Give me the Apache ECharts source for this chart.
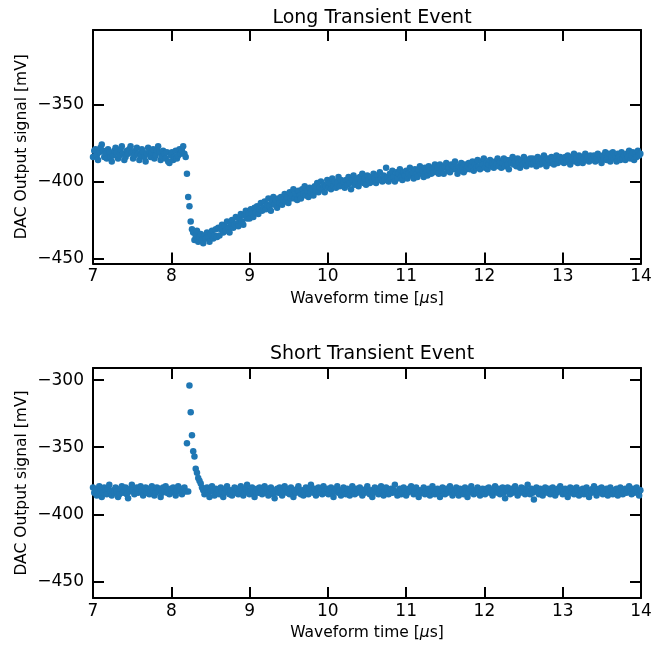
<!DOCTYPE html>
<html>
<head>
<meta charset="utf-8">
<title>Transient Events</title>
<script src="https://cdn.jsdelivr.net/npm/echarts@6/dist/echarts.min.js"></script>
<style>
  html, body { margin: 0; padding: 0; background: #fff; }
  #chart { width: 667px; height: 645px; }
</style>
</head>
<body>
<div id="chart"></div>
<script>
// Waveform samples: DAC output in mV, one sample every 16 ns starting at 7 µs.
const sampleStartUs = 7.0;
const samplePeriodUs = 0.016;

const longEventMv = [
  -384,-380,-379,-383,-386,-381,-378,-376,-380,-384,-382,-385,-379,-381,-384,-387,-383,-380,-378,-381,
  -385,-383,-379,-377,-382,-386,-384,-380,-382,-379,-377,-381,-385,-383,-380,-378,-382,-386,-383,-379,
  -381,-384,-387,-382,-378,-380,-384,-381,-379,-385,-383,-380,-377,-381,-386,-384,-380,-382,-385,-381,
  -387,-388,-383,-381,-386,-384,-380,-385,-383,-379,-382,-380,-377,
  -382,-384,-395,-410,-416,-426,-431,
  -433,-438,-435,-432,-439,-436,-434,-438,-440,-435,-437,-433,-436,-439,-434,-432,-437,-435,-431,-436,
  -430,-435,-431,-428,-433,-429,-432,-426,-430,-433,-427,-425,-430,-428,-423,-427,-429,-424,-421,-426,-428,-422,-419,-424,-421,
  -424,-418,-421,-423,-417,-420,-416,-421,-418,-414,-419,-417,-413,-418,-415,-411,-416,-419,-413,-410,-415,-412,-417,-411,-414,
  -410,-415,-412,-408,-413,-410,-414,-407,-411,-409,-405,-411,-408,-412,-406,-409,-411,-405,-408,-403,-409,-406,-410,-404,-407,
  -405,-409,-403,-406,-401,-407,-404,-400,-405,-402,-407,-403,-399,-404,-401,-405,-398,-403,-400,-404,-401,-397,-403,-399,-402,
  -400,-404,-399,-402,-397,-401,-405,-399,-396,-402,-400,-398,-403,-397,-400,-395,-401,-398,-402,-396,-399,-401,-397,-400,-395,
  -398,-401,-396,-399,-394,-398,-400,-396,-399,-391,-397,-400,-395,-398,-393,-397,-400,-394,-398,-395,-392,-397,-399,-394,-396,
  -393,-398,-395,-391,-396,-394,-398,-392,-395,-397,-392,-390,-395,-393,-397,-391,-394,-396,-390,-393,-395,-391,-394,-389,-393,
  -391,-395,-389,-393,-391,-395,-390,-388,-393,-391,-394,-389,-392,-390,-387,-392,-395,-390,-393,-388,-391,-394,-389,-392,-390,
  -388,-392,-390,-387,-393,-389,-391,-386,-390,-392,-387,-389,-385,-391,-388,-392,-389,-386,-390,-388,-391,-387,-389,-385,-390,
  -387,-391,-388,-385,-390,-386,-389,-392,-386,-388,-384,-389,-387,-390,-385,-388,-391,-386,-389,-384,-387,-390,-386,-388,-385,
  -389,-385,-388,-386,-390,-384,-387,-389,-385,-388,-383,-387,-390,-385,-386,-388,-384,-387,-389,-385,-383,-388,-386,-384,-387,
  -385,-388,-384,-387,-383,-386,-389,-384,-386,-382,-387,-385,-388,-383,-386,-384,-388,-385,-382,-386,-384,-387,-383,-386,-385,
  -383,-387,-385,-382,-386,-384,-388,-383,-385,-381,-386,-384,-382,-387,-384,-381,-385,-383,-387,-382,-384,-386,-381,-385,-383,
  -386,-382,-384,-380,-385,-383,-381,-386,-382,-384,-380,-383,-382
];

const shortEventMv = [
  -380,-384,-382,-386,-381,-379,-383,-387,-384,-380,-382,-385,-381,-378,-383,-386,-382,-384,-380,-383,
  -387,-385,-381,-379,-384,-382,-380,-385,-388,-383,-381,-378,-382,-385,-383,-380,-384,-381,-379,-383,
  -386,-382,-380,-384,-381,-385,-383,-379,-382,-386,-384,-380,-383,-381,-387,-384,-380,-382,-379,-384,
  -382,-385,-381,-383,-380,-384,-386,-382,-379,-383,-381,-385,-382,-380,-383,
  -347,-383,-304,-324,-341,-353,-357,-366,-369,-373,-375,-377,-380,
  -382,-385,-383,-380,-384,-387,-382,-379,-383,-386,-381,-384,-382,-385,-380,-383,-387,-384,-381,-379,-383,-385,-382,-386,-383,
  -380,-384,-381,-385,-383,-379,-382,-386,-384,-381,-378,-383,-385,-382,-380,-384,-387,-383,-381,-384,-380,-382,-385,-383,-379,
  -384,-381,-386,-383,-380,-382,-385,-388,-383,-381,-384,-380,-382,-386,-383,-379,-381,-384,-382,-385,-380,-383,-387,-382,-384,
  -381,-379,-383,-385,-382,-386,-384,-380,-382,-385,-381,-378,-383,-384,-381,-386,-383,-380,-384,-382,-385,-379,-382,-384,-381,
  -385,-382,-380,-384,-387,-383,-381,-379,-384,-382,-386,-383,-380,-382,-385,-381,-384,-386,-382,-379,-383,-385,-381,-384,-382,
  -380,-383,-386,-382,-384,-381,-379,-383,-385,-382,-387,-384,-380,-383,-381,-385,-382,-379,-384,-386,-383,-380,-382,-385,-383,
  -381,-384,-382,-378,-383,-386,-384,-381,-385,-383,-380,-382,-386,-384,-381,-383,-379,-382,-385,-383,-380,-384,-387,-382,-384,
  -383,-380,-385,-382,-384,-381,-386,-383,-379,-382,-385,-383,-381,-384,-387,-382,-380,-383,-385,-381,-384,-382,-379,-383,-386,
  -382,-384,-380,-383,-386,-381,-384,-382,-385,-380,-383,-387,-384,-381,-379,-383,-385,-382,-384,-380,-382,-386,-383,-381,-384,
  -385,-381,-383,-380,-384,-382,-386,-383,-379,-382,-384,-381,-385,-383,-380,-384,-388,-382,-380,-383,-385,-381,-384,-382,-379,
  -383,-386,-382,-384,-380,-383,-381,-385,-382,-378,-383,-385,-381,-384,-389,-383,-380,-382,-385,-381,-384,-386,-382,-380,-383,
  -384,-381,-385,-383,-380,-382,-386,-384,-381,-383,-379,-382,-385,-383,-381,-384,-387,-382,-380,-384,-381,-385,-383,-380,-382,
  -386,-382,-384,-381,-385,-383,-380,-383,-387,-382,-384,-381,-379,-383,-386,-384,-381,-383,-380,-385,-382,-384,-381,-386,-383,
  -380,-383,-385,-382,-384,-381,-386,-383,-380,-382,-385,-383,-381,-384,-382,-379,-383,-385,-381,-384,-382,-380,-384,-386,-382
];

const panelTitles = ['Long Transient Event', 'Short Transient Event'];
const xTicks = [7, 8, 9, 10, 11, 12, 13, 14];
const longYTicks = [-450, -400, -350];
const shortYTicks = [-450, -400, -350, -300];
const longYRange = [-453.2, -301.6];
const shortYRange = [-462.3, -291];

function toPoints(values) {
  return values.map((v, i) => [+(sampleStartUs + i * samplePeriodUs).toFixed(3), v]);
}

const FONT = 'DejaVu Sans';
const BLUE = '#1f77b4';
const minusSign = v => String(v).replace('-', '\u2212');

function xAxes(gridIndex) {
  const common = {
    gridIndex, type: 'value', min: xTicks[0], max: xTicks[xTicks.length - 1], interval: 1,
    splitLine: { show: false },
    axisLine: { show: true, onZero: false, lineStyle: { color: '#000', width: 2 } },
    axisTick: { show: true, inside: true, length: 11, lineStyle: { color: '#000', width: 2 } }
  };
  return [
    Object.assign({}, common, {
      position: 'bottom',
      axisLabel: { margin: 5, fontSize: 17, color: '#000', fontFamily: FONT },
      name: '{n|Waveform time [}{mu|μ}{n|s]}',
      nameLocation: 'middle', nameGap: 27, nameMoveOverlap: false,
      nameTextStyle: {
        rich: {
          n: { fontSize: 15.5, color: '#000', fontFamily: FONT },
          mu: { fontSize: 15.5, color: '#000', fontFamily: FONT, fontStyle: 'italic' }
        }
      }
    }),
    Object.assign({}, common, { position: 'top', axisLabel: { show: false } })
  ];
}

function yAxes(gridIndex, range, ticks) {
  const common = {
    gridIndex, type: 'value', min: range[0], max: range[1],
    splitLine: { show: false },
    axisLine: { show: true, onZero: false, lineStyle: { color: '#000', width: 2 } },
    axisTick: { show: true, inside: true, length: 11, customValues: ticks, lineStyle: { color: '#000', width: 2 } }
  };
  return [
    Object.assign({}, common, {
      position: 'left',
      axisLabel: { customValues: ticks, margin: 9, fontSize: 17, color: '#000', fontFamily: FONT, formatter: minusSign },
      name: 'DAC Output signal [mV]',
      nameLocation: 'middle', nameRotate: 90, nameGap: 63, nameMoveOverlap: false,
      nameTextStyle: { fontSize: 15.5, color: '#000', fontFamily: FONT }
    }),
    Object.assign({}, common, { position: 'right', axisLabel: { show: false } })
  ];
}

const chart = echarts.init(document.getElementById('chart'), null, { renderer: 'canvas' });

chart.setOption({
  animation: false,
  backgroundColor: '#fff',
  title: [
    { text: panelTitles[0], left: 367, top: 4, textAlign: 'center',
      textStyle: { fontSize: 19, fontWeight: 'normal', color: '#000', fontFamily: FONT } },
    { text: panelTitles[1], left: 367, top: 340, textAlign: 'center',
      textStyle: { fontSize: 19, fontWeight: 'normal', color: '#000', fontFamily: FONT } }
  ],
  grid: [
    { left: 93, right: 26, top: 30, height: 233.5 },
    { left: 93, right: 26, top: 368, height: 230 }
  ],
  xAxis: [...xAxes(0), ...xAxes(1)],
  yAxis: [...yAxes(0, longYRange, longYTicks), ...yAxes(1, shortYRange, shortYTicks)],
  series: [
    { type: 'scatter', xAxisIndex: 0, yAxisIndex: 0, data: toPoints(longEventMv),
      symbolSize: 6.5, itemStyle: { color: BLUE, opacity: 1 }, clip: true },
    { type: 'scatter', xAxisIndex: 2, yAxisIndex: 2, data: toPoints(shortEventMv),
      symbolSize: 6.5, itemStyle: { color: BLUE, opacity: 1 }, clip: true }
  ]
});
</script>
</body>
</html>
